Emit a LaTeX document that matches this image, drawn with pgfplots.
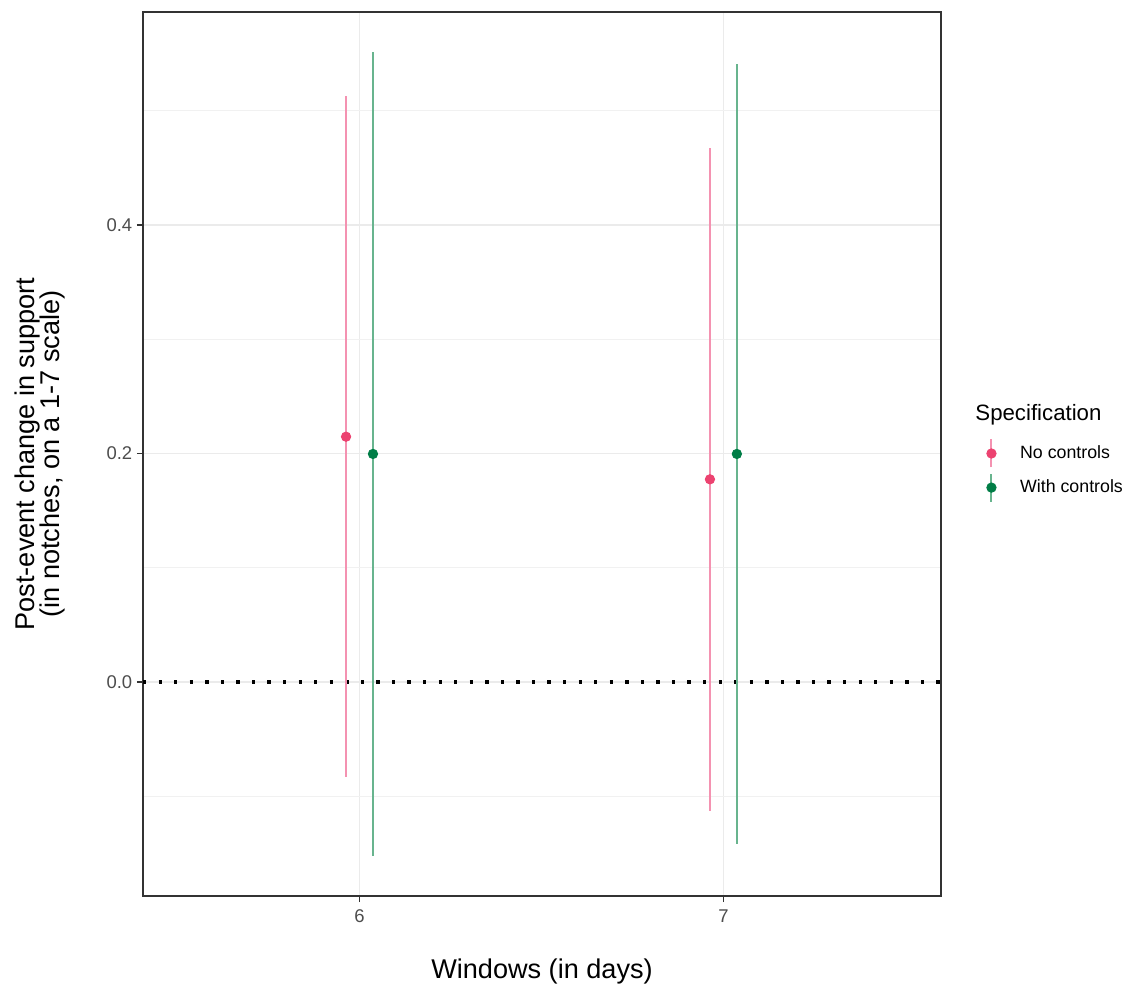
\documentclass[border=0pt]{standalone}
\usepackage{fontspec}
\setmainfont{Liberation Sans}
\usepackage{pgfplots}
\pgfplotsset{compat=1.18}
\definecolor{pinkdot}{RGB}{236,66,112}
\definecolor{pinkline}{RGB}{244,146,177}
\definecolor{greendot}{RGB}{0,125,70}
\definecolor{greenline}{RGB}{104,180,142}
\definecolor{gridc}{RGB}{235,235,235}
\definecolor{frame}{RGB}{51,51,51}
\definecolor{ticklab}{RGB}{77,77,77}
\begin{document}
\begin{tikzpicture}
\useasboundingbox (-64.35pt,-41.85pt) rectangle (443.7pt,403.2pt);
\begin{axis}[
  at={(0,0)}, anchor=south west,
  scale only axis, width=359.1pt, height=397.8pt,
  xmin=5.405, xmax=7.598, ymin=-0.1873, ymax=0.5864,
  clip=false,
  axis line style={frame, line width=0.5pt},
  xtick={6,7}, ytick={0,0.2,0.4},
  minor ytick={-0.1,0.1,0.3,0.5},
  yticklabel style={xshift=1.35pt, /pgf/number format/.cd, fixed, fixed zerofill, precision=1},
  /pgf/number format/assume math mode=true,
  tick align=outside, tick pos=left,
  major tick length=2.7pt,
  every tick/.style={frame, line width=0.5pt},
  minor tick length=0pt,
  grid=both,
  major grid style={gridc, line width=0.5pt},
  minor grid style={gridc!70!white, line width=0.3pt},
  ticklabel style={font=\fontsize{8.3}{10}\selectfont, text=ticklab},
  xlabel={Windows (in days)},
  ylabel={Post-event change in support\\(in notches, on a 1-7 scale)},
  every axis x label/.style={at={(rel axis cs:0.5,0)}, anchor=center, yshift=-33.75pt, font=\fontsize{12.2}{13}\selectfont},
  every axis y label/.style={at={(rel axis cs:0,0.5)}, anchor=center, xshift=-46.35pt, rotate=90, align=center, font=\fontsize{12.2}{11.5}\selectfont},
  legend style={at={(rel axis cs:1.0557,0.4813)}, anchor=west, draw=none, fill=none, inner sep=0pt, row sep=1.85pt, font=\fontsize{8}{9.6}\selectfont},
  legend cell align=left,
]
\addplot[black, line width=1.5pt, dash pattern=on 1.5pt off 5.5pt, forget plot] coordinates {(5.405,0) (7.598,0)};
\addplot[only marks, mark=*, mark size=2.1pt, color=pinkdot,
  legend image code/.code={\path[draw=none, fill=none] (-2.5pt,0) -- (10.9pt,0); \draw[pinkline, line width=0.9pt] (0pt,-6.3pt) -- (0pt,6.3pt); \fill[pinkdot] (0pt,0pt) circle (2.1pt);},
  error bars/.cd, y dir=both, y explicit, error mark=none,
  error bar style={pinkline, line width=0.9pt}]
  coordinates {(5.963,0.2147) +- (0,0.298) (6.963,0.1774) +- (0,0.290)};
\addlegendentry{No controls}
\addplot[only marks, mark=*, mark size=2.1pt, color=greendot,
  legend image code/.code={\path[draw=none, fill=none] (-2.5pt,0) -- (10.9pt,0); \draw[greenline, line width=0.9pt] (0pt,-6.3pt) -- (0pt,6.3pt); \fill[greendot] (0pt,0pt) circle (2.1pt);},
  error bars/.cd, y dir=both, y explicit, error mark=none,
  error bar style={greenline, line width=0.9pt}]
  coordinates {(6.037,0.1996) +- (0,0.352) (7.037,0.1996) +- (0,0.341)};
\addlegendentry{With controls}
\node[anchor=west, inner sep=0pt, font=\fontsize{10}{12}\selectfont] at (rel axis cs:1.0426,0.5441) {Specification};
\end{axis}
\end{tikzpicture}
\end{document}
